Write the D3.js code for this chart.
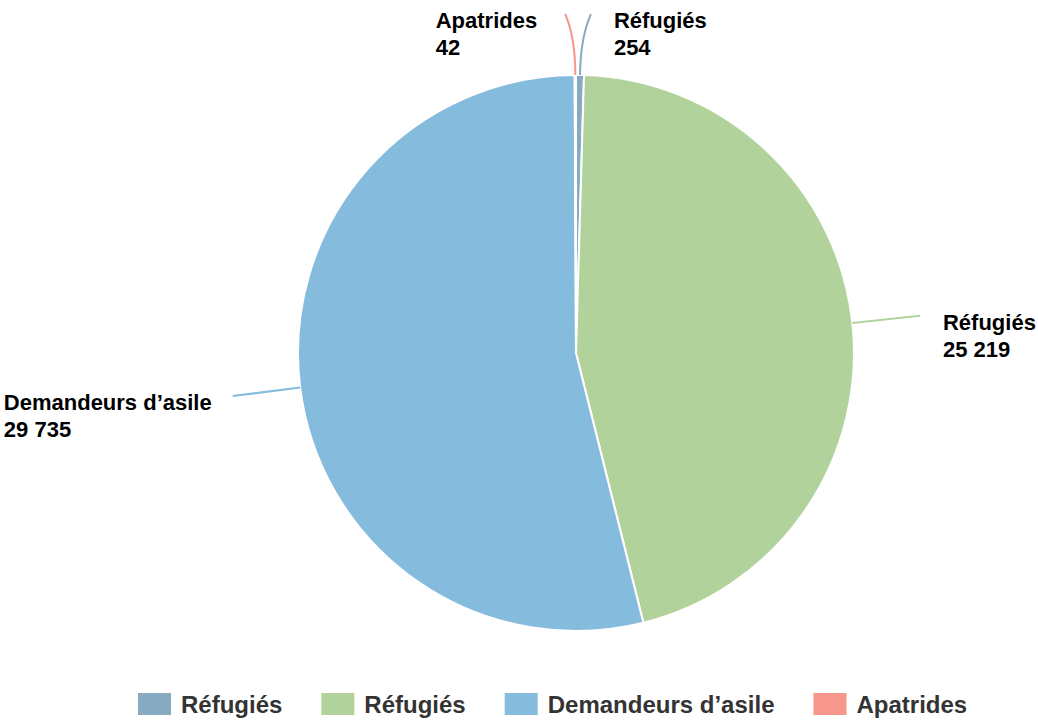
<!DOCTYPE html>
<html>
<head>
<meta charset="utf-8">
<script src="https://d3js.org/d3.v7.min.js"></script>
<style>
  body { margin: 0; background: #fff; }
  svg { display: block; font-family: "Liberation Sans", Arial, sans-serif; }
</style>
</head>
<body>
<svg id="chart" width="1038" height="720"></svg>
<script>
// data
var categories = ["Réfugiés", "Réfugiés", "Demandeurs d’asile", "Apatrides"];
var values = [254, 25219, 29735, 42];
var valueLabels = ["254", "25 219", "29 735", "42"];
var colors = ["#87a9c1", "#b1d39b", "#85bcde", "#f7968b"];

var svg = d3.select("#chart");
var cx = 576, cy = 353, r = 278;

var data = categories.map((c, i) => ({ name: c, value: values[i], label: valueLabels[i], color: colors[i] }));

var pie = d3.pie().value(d => d.value).sort(null);
var arcs = pie(data);
var arc = d3.arc().innerRadius(0).outerRadius(r);

var g = svg.append("g").attr("transform", "translate(" + cx + "," + cy + ")");

g.selectAll("path.slice")
  .data(arcs)
  .join("path")
  .attr("class", "slice")
  .attr("d", arc)
  .attr("fill", d => d.data.color)
  .attr("stroke", "#fff")
  .attr("stroke-width", 2)
  .attr("stroke-linejoin", "round");

// leader lines + labels
function polar(a, rad) { return [rad * Math.sin(a), -rad * Math.cos(a)]; }

arcs.forEach((d, i) => {
  var mid = (d.startAngle + d.endAngle) / 2;
  var small = (d.endAngle - d.startAngle) < 0.1;
  var right = Math.sin(mid) > 0;
  var p0 = polar(mid, r);
  var p1 = polar(mid, r + 38);
  var p2 = polar(mid, r + (small ? 61 : 68));
  if (small) p2[0] += right ? 10 : -10;
  g.append("path")
    .attr("d", "M" + p0 + "Q" + p1 + " " + p2)
    .attr("fill", "none")
    .attr("stroke", d.data.color)
    .attr("stroke-width", 2);

  var t = g.append("text")
    .attr("font-size", 22)
    .attr("font-weight", "bold")
    .attr("fill", "#000");
  t.append("tspan").attr("x", 0).attr("y", p2[1] + 14).text(d.data.name);
  t.append("tspan").attr("x", 0).attr("y", p2[1] + 41).text(d.data.label);
  var w = t.node().getBBox().width;
  var tx = right ? p2[0] + 23 : p2[0] - (small ? 28 : 21) - w;
  t.selectAll("tspan").attr("x", tx);
});

// legend
var legend = svg.append("g").attr("transform", "translate(138,693)");
var lx = 0;
data.forEach((d, i) => {
  var item = legend.append("g").attr("transform", "translate(" + lx + ",0)");
  item.append("rect").attr("width", 33).attr("height", 22).attr("fill", d.color);
  var t = item.append("text")
    .attr("x", 43)
    .attr("y", 20)
    .attr("font-size", 24)
    .attr("font-weight", "bold")
    .attr("fill", "#333")
    .text(d.name);
  lx += 43 + t.node().getComputedTextLength() + 39;
});
</script>
</body>
</html>
